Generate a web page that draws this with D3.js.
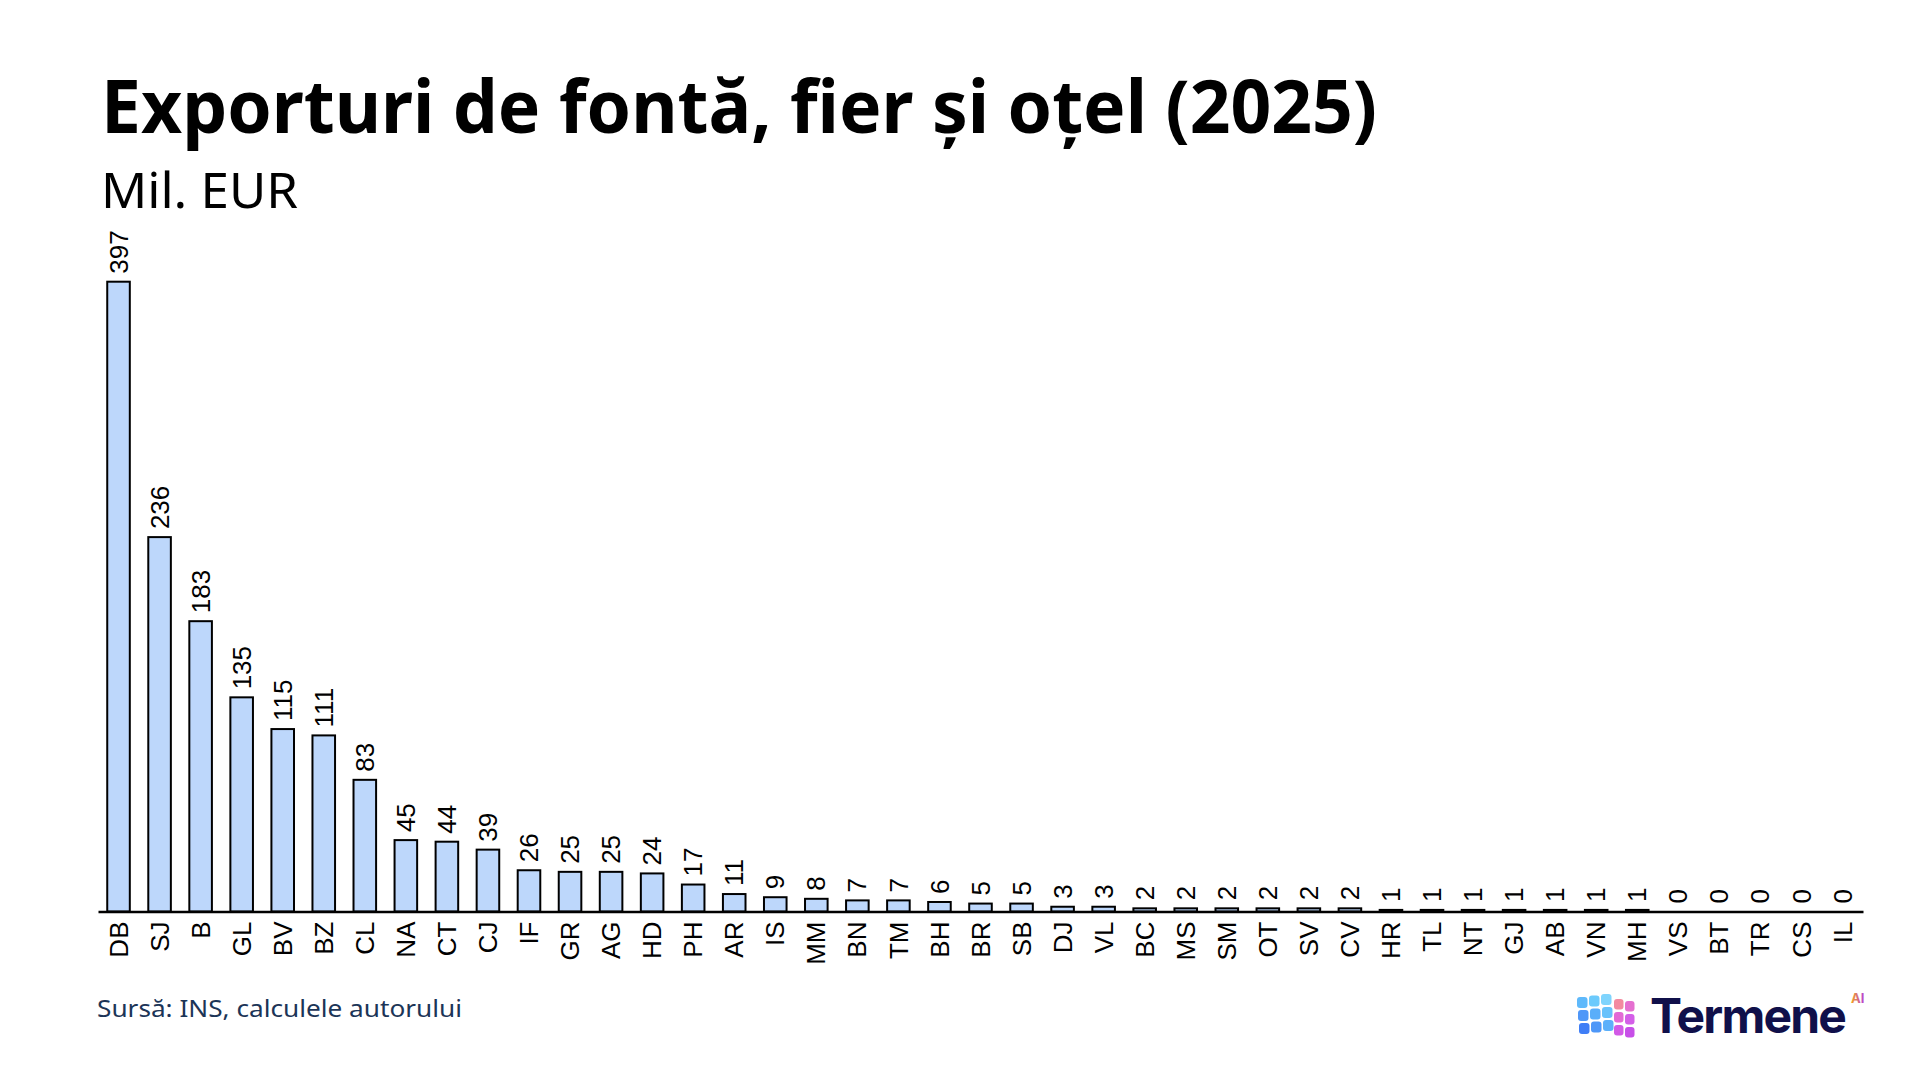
<!DOCTYPE html>
<html>
<head>
<meta charset="utf-8">
<script src="https://cdn.jsdelivr.net/npm/d3@7"></script>
<style>
  html, body { margin: 0; padding: 0; background: #fff; }
  svg { display: block; }
</style>
</head>
<body>
<div class="chart"></div>
<script>
const counties = ['DB', 'SJ', 'B', 'GL', 'BV', 'BZ', 'CL', 'NA', 'CT', 'CJ', 'IF', 'GR', 'AG', 'HD', 'PH',
  'AR', 'IS', 'MM', 'BN', 'TM', 'BH', 'BR', 'SB', 'DJ', 'VL', 'BC', 'MS', 'SM', 'OT', 'SV', 'CV', 'HR',
  'TL', 'NT', 'GJ', 'AB', 'VN', 'MH', 'VS', 'BT', 'TR', 'CS', 'IL'];
const exportsEur = [397, 236, 183, 135, 115, 111, 83, 45, 44, 39, 26, 25, 25, 24, 17,
  11, 9, 8, 7, 7, 6, 5, 5, 3, 3, 2, 2, 2, 2, 2, 2, 1,
  1, 1, 1, 1, 1, 1, 0, 0, 0, 0, 0];

const title = 'Exporturi de fontă, fier și oțel (2025)';
const subtitle = 'Mil. EUR';
const source = 'Sursă: INS, calculele autorului';

const BAR_FILL = '#bdd7fb';
const LABEL_FONT = '"Liberation Sans", Arial, sans-serif';
const HEAD_FONT = '"Noto Sans", "Open Sans", sans-serif';

const width = 1920;
const height = 1080;
const axisY = 911.5;

const data = counties.map((c, i) => ({ name: c, value: exportsEur[i] }));

const svg = d3.select('.chart')
  .append('svg')
  .attr('width', width)
  .attr('height', height);

// headings
svg.append('text')
  .attr('x', 101)
  .attr('y', 132.5)
  .attr('font-family', HEAD_FONT)
  .attr('font-weight', 700)
  .attr('font-size', 74)
  .attr('textLength', 1276)
  .attr('lengthAdjust', 'spacingAndGlyphs')
  .attr('fill', '#000')
  .text(title);

svg.append('text')
  .attr('x', 101)
  .attr('y', 208)
  .attr('font-family', HEAD_FONT)
  .attr('font-weight', 400)
  .attr('font-size', 49)
  .attr('textLength', 197)
  .attr('lengthAdjust', 'spacingAndGlyphs')
  .attr('fill', '#000')
  .text(subtitle);

// scales
const x = d3.scaleBand()
  .domain(counties)
  .range([98, 1863])
  .paddingInner(0.45)
  .paddingOuter(0.225);

const y = d3.scaleLinear()
  .domain([0, d3.max(exportsEur)])
  .range([axisY, 281.7]);

// bars
svg.append('g')
  .selectAll('rect')
  .data(data)
  .enter()
  .append('rect')
  .attr('x', d => x(d.name))
  .attr('y', d => y(d.value))
  .attr('width', x.bandwidth())
  .attr('height', d => axisY - y(d.value))
  .attr('fill', BAR_FILL)
  .attr('stroke', '#000')
  .attr('stroke-width', 2);

// value labels
svg.append('g')
  .selectAll('text')
  .data(data)
  .enter()
  .append('text')
  .attr('transform', d => `translate(${x(d.name) + x.bandwidth() / 2}, ${y(d.value) - 8}) rotate(-90)`)
  .attr('dy', '0.35em')
  .attr('text-anchor', 'start')
  .attr('font-family', LABEL_FONT)
  .attr('font-size', 26)
  .attr('fill', '#000')
  .text(d => d.value);

// x axis
const xAxis = svg.append('g')
  .attr('transform', `translate(0, ${axisY})`)
  .call(d3.axisBottom(x).tickSize(0).tickSizeOuter(0).tickPadding(0));

xAxis.select('.domain')
  .attr('stroke', '#000')
  .attr('stroke-width', 2.5);

xAxis.selectAll('.tick text')
  .attr('font-family', LABEL_FONT)
  .attr('font-size', 26)
  .attr('fill', '#000')
  .attr('text-anchor', 'end')
  .attr('transform', 'translate(0, 10) rotate(-90)')
  .attr('x', 0)
  .attr('y', 0)
  .attr('dy', '0.35em');

// source
svg.append('text')
  .attr('x', 97)
  .attr('y', 1017)
  .attr('font-family', HEAD_FONT)
  .attr('font-size', 24)
  .attr('textLength', 365)
  .attr('lengthAdjust', 'spacingAndGlyphs')
  .attr('fill', '#1c3557')
  .text(source);

// logo
const defs = svg.append('defs');
const aiGrad = defs.append('linearGradient').attr('id', 'ai-grad').attr('x1', 0).attr('x2', 1);
aiGrad.append('stop').attr('offset', '0%').attr('stop-color', '#f7a21b');
aiGrad.append('stop').attr('offset', '100%').attr('stop-color', '#b43be0');

const logo = svg.append('g').attr('transform', 'translate(1577, 993)');
const cubeColors = [
  ['#5fb9fb', '#6ccafc', '#7fd4fd'],
  ['#4f97f8', '#5aaefa', '#68c2fb'],
  ['#3f7ef6', '#4d97f8', '#5cb0fa']
];
cubeColors.forEach((row, r) => {
  row.forEach((c, ci) => {
    logo.append('rect')
      .attr('x', ci * 12 + r * 1)
      .attr('y', r * 13 + 4 - ci * 1.5)
      .attr('width', 10.5)
      .attr('height', 11)
      .attr('rx', 3)
      .attr('fill', c);
  });
});
const sideColors = [['#f38aa0', '#e56fd0'], ['#e36ad5', '#d45ee8'], ['#d25ae6', '#c74fe8']];
sideColors.forEach((row, r) => {
  row.forEach((c, ci) => {
    logo.append('rect')
      .attr('x', 37 + ci * 11)
      .attr('y', r * 13 + 6 + ci * 2)
      .attr('width', 9.5)
      .attr('height', 10.5)
      .attr('rx', 3)
      .attr('fill', c);
  });
});

svg.append('text')
  .attr('x', 1650)
  .attr('y', 1033)
  .attr('font-family', '"Inter", "Noto Sans", sans-serif')
  .attr('font-weight', 700)
  .attr('font-size', 48)
  .attr('letter-spacing', -1.8)
  .attr('fill', '#10104a')
  .text('Termene');

svg.append('text')
  .attr('x', 1851)
  .attr('y', 1003)
  .attr('font-family', '"Inter", sans-serif')
  .attr('font-weight', 700)
  .attr('font-size', 13)
  .attr('fill', 'url(#ai-grad)')
  .text('AI');
</script>
</body>
</html>
